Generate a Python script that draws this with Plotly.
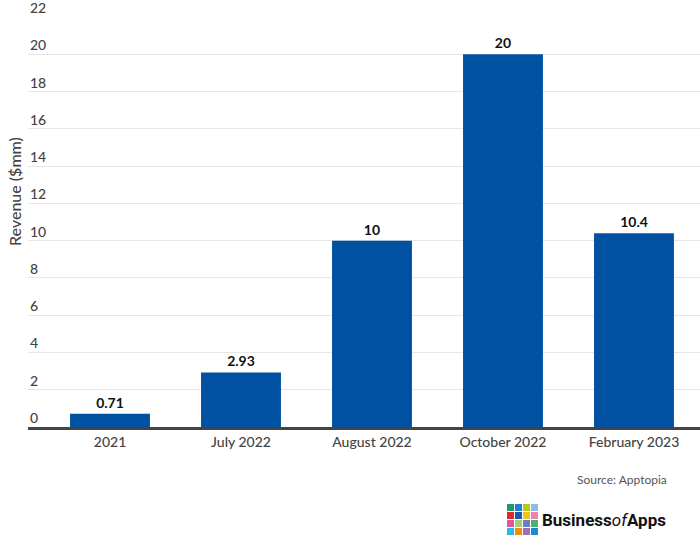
import plotly.graph_objects as go

categories = ["2021", "July 2022", "August 2022", "October 2022", "February 2023"]
revenue = [0.71, 2.93, 10, 20, 10.4]
value_labels = ["0.71", "2.93", "10", "20", "10.4"]
y_ticks = [0, 2, 4, 6, 8, 10, 12, 14, 16, 18, 20, 22]

W, H = 700, 550
L, R, T, B = 28, 0, 17, 123
PW, PH = W - L - R, H - T - B

def px(x):
    return (x - L) / PW

def py(y):
    return (H - B - y) / PH

fig = go.Figure()
fig.add_trace(go.Bar(
    x=list(range(len(categories))), y=revenue,
    marker=dict(color="#0051a2", line=dict(width=0)),
    width=0.61,
    text=value_labels, textposition="outside",
    textfont=dict(family="Lato", size=14, color="#111111"),
    texttemplate="<b>%{text}</b>",
    cliponaxis=False,
    hoverinfo="skip",
))

fig.update_layout(
    width=W, height=H,
    margin=dict(l=L, r=R, t=T, b=B, autoexpand=False),
    plot_bgcolor="white", paper_bgcolor="white",
    showlegend=False,
    font=dict(family="Lato", color="#444444"),
    xaxis=dict(
        range=[-0.626, 4.504], automargin=False,
        tickmode="array", tickvals=list(range(len(categories))), ticktext=categories,
        tickfont=dict(family="Lato", size=14, color="#444444", weight=500),
        showgrid=False, showline=True, linecolor="#444444", linewidth=3,
        ticks="", zeroline=False,
    ),
    yaxis=dict(
        range=[0, 22], automargin=False,
        tickmode="array", tickvals=y_ticks,
        showticklabels=False,
        showgrid=True, gridcolor="#e6e6e6", gridwidth=1,
        zeroline=False, showline=False, ticks="",
    ),
)

for t in y_ticks:
    fig.add_annotation(
        x=0, y=t, xref="paper", yref="y", xanchor="left", yanchor="bottom",
        text=str(t), showarrow=False, yshift=-1,
        font=dict(family="Lato", size=14, color="#444444", weight=500),
    )

fig.add_annotation(
    x=px(14), y=py(192), xref="paper", yref="paper", xanchor="center", yanchor="middle",
    text="Revenue ($mm)", textangle=-90, showarrow=False,
    font=dict(family="Lato", size=16, color="#444444", weight=500),
)

fig.add_annotation(
    x=px(669), y=py(479), xref="paper", yref="paper", xanchor="right", yanchor="middle",
    text="Source: Apptopia", showarrow=False,
    font=dict(family="Lato", size=12, color="#555555"),
)

logo_colors = [
    ["#1a9a6e", "#1f7fd0", "#b5c91a", "#8cbde8"],
    ["#e0282e", "#1d5aa8", "#f0c419", "#f080b0"],
    ["#d45aa0", "#a8cc70", "#6a7fc0", "#4cb070"],
    ["#28b8e8", "#f08c10", "#9a70b0", "#1f88d0"],
]
x0, y0, s, g = 507, 504, 7, 1
for r, row in enumerate(logo_colors):
    for c, col in enumerate(row):
        xa = x0 + c * (s + g)
        ya = y0 + r * (s + g)
        fig.add_shape(type="rect", xref="paper", yref="paper",
                      x0=px(xa), x1=px(xa + s), y0=py(ya), y1=py(ya + s),
                      fillcolor=col, line=dict(width=0), layer="above")

fig.add_annotation(
    x=px(540), y=py(520), xref="paper", yref="paper", xanchor="left", yanchor="middle",
    text="<b>Business</b><i>of</i><b>Apps</b>", showarrow=False,
    font=dict(family="Roboto", size=17, color="#111111"),
)

fig.write_html("out.html", config={"displayModeBar": False},
               post_script="document.body.style.margin='0';")
